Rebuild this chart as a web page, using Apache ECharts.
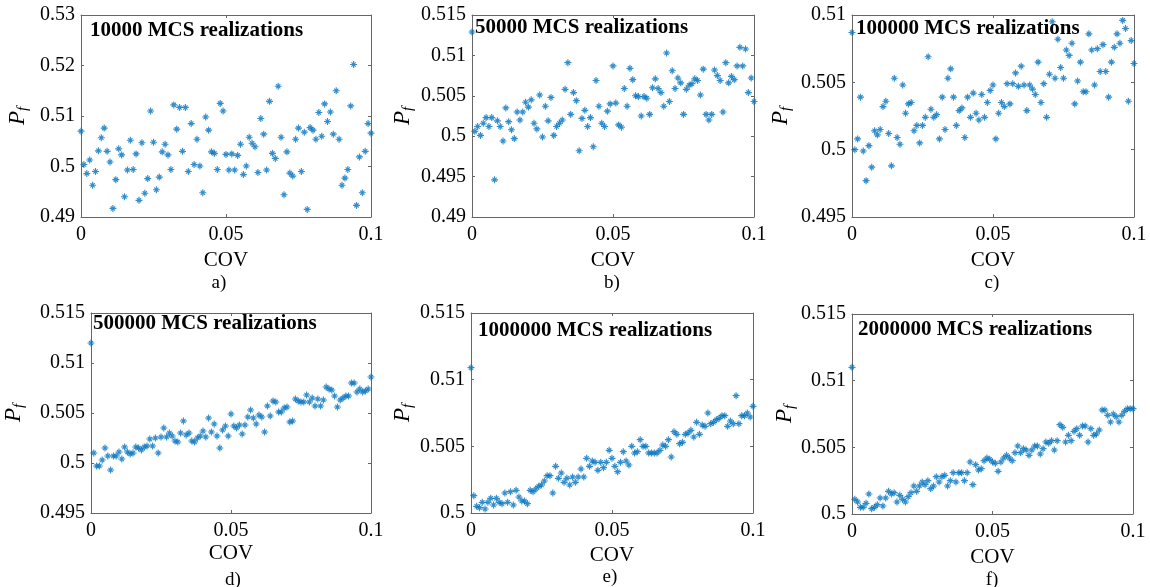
<!DOCTYPE html>
<html><head><meta charset="utf-8">
<script src="https://cdn.jsdelivr.net/npm/echarts@6/dist/echarts.min.js"></script>
<style>html,body{margin:0;padding:0;background:#fff}#c{width:1150px;height:587px}</style>
</head><body><div id="c"></div>
<script>
// ---------------- DATA ----------------
const COV = [0,0.001,0.002,0.003,0.004,0.005,0.006,0.007,0.008,0.009,
0.010,0.011,0.012,0.013,0.014,0.015,0.016,0.017,0.018,0.019,
0.020,0.021,0.022,0.023,0.024,0.025,0.026,0.027,0.028,0.029,
0.030,0.031,0.032,0.033,0.034,0.035,0.036,0.037,0.038,0.039,
0.040,0.041,0.042,0.043,0.044,0.045,0.046,0.047,0.048,0.049,
0.050,0.051,0.052,0.053,0.054,0.055,0.056,0.057,0.058,0.059,
0.060,0.061,0.062,0.063,0.064,0.065,0.066,0.067,0.068,0.069,
0.070,0.071,0.072,0.073,0.074,0.075,0.076,0.077,0.078,0.079,
0.080,0.081,0.082,0.083,0.084,0.085,0.086,0.087,0.088,0.089,
0.090,0.091,0.092,0.093,0.094,0.095,0.096,0.097,0.098,0.099,0.100];

const pfA = [0.507,0.5004,0.4986,0.5013,0.4963,0.499,0.5031,0.5057,0.5076,0.503,
0.5009,0.4917,0.4974,0.5035,0.5023,0.494,0.4993,0.5052,0.4994,0.5025,
0.4933,0.5047,0.4947,0.4976,0.511,0.5048,0.4954,0.4979,0.5029,0.5044,
0.5023,0.4994,0.5122,0.5074,0.5117,0.503,0.5117,0.499,0.5085,0.5004,
0.5054,0.5001,0.4948,0.5098,0.5072,0.5029,0.5026,0.4994,0.5125,0.511,
0.5024,0.4993,0.5025,0.4993,0.5022,0.5044,0.4984,0.5001,0.5058,0.5046,
0.5039,0.4988,0.5095,0.5064,0.4993,0.5129,0.5026,0.5016,0.5159,0.5058,
0.4944,0.5029,0.4987,0.4981,0.5054,0.5076,0.499,0.5068,0.4915,0.5077,
0.5072,0.5054,0.5107,0.506,0.5124,0.5089,0.5108,0.5064,0.515,0.5054,
0.4963,0.4977,0.4994,0.512,0.5202,0.4923,0.5019,0.4948,0.503,0.5085,0.5066];

const pfB = [0.5129,0.5006,0.5012,0.5001,0.5016,0.5023,0.5012,0.5023,0.4946,0.5019,
0.5012,0.4994,0.5035,0.5018,0.5008,0.4997,0.503,0.502,0.503,0.5042,
0.5036,0.5045,0.5016,0.5009,0.5051,0.4999,0.5037,0.5019,0.5048,0.5001,
0.5012,0.5016,0.502,0.5058,0.5091,0.5027,0.5054,0.5044,0.4982,0.5022,
0.5032,0.5012,0.5023,0.4987,0.5069,0.5037,0.5016,0.5012,0.5031,0.504,
0.5087,0.5041,0.5014,0.5011,0.5059,0.5037,0.5084,0.507,0.505,0.5049,
0.5025,0.5049,0.5047,0.5027,0.506,0.5071,0.5059,0.5054,0.5037,0.5103,
0.5043,0.5081,0.5059,0.5072,0.5066,0.5027,0.5058,0.5063,0.5065,0.5071,
0.5069,0.5051,0.5083,0.5027,0.502,0.5027,0.5082,0.5075,0.5069,0.503,
0.5091,0.5066,0.5074,0.507,0.5087,0.511,0.5087,0.5108,0.5054,0.5072,0.5043];

const pfC = [0.5087,0.5,0.5008,0.5039,0.4999,0.4977,0.5003,0.4987,0.5014,0.5011,
0.5015,0.5032,0.5036,0.5012,0.4988,0.5053,0.5009,0.5004,0.5048,0.5027,
0.5034,0.5035,0.5014,0.5018,0.5005,0.5018,0.5024,0.5069,0.503,0.5024,
0.5026,0.5008,0.5039,0.5015,0.5053,0.506,0.5039,0.5018,0.5029,0.5031,
0.5009,0.5039,0.5024,0.5042,0.5027,0.5022,0.5041,0.5024,0.5035,0.5044,
0.5048,0.5008,0.5027,0.5035,0.5032,0.5049,0.5034,0.5049,0.5057,0.5047,
0.5062,0.5048,0.5029,0.5048,0.5045,0.5041,0.5065,0.5035,0.5049,0.5024,
0.5056,0.5095,0.5053,0.5082,0.5061,0.5053,0.5074,0.507,0.5079,0.5034,
0.5051,0.5065,0.5043,0.5043,0.5086,0.5074,0.5048,0.5075,0.5058,0.5078,
0.5058,0.5039,0.5065,0.5076,0.5086,0.5079,0.5096,0.509,0.5036,0.5081,0.5064];

const pfD = [0.512,0.501,0.4997,0.4997,0.5003,0.5015,0.5007,0.4993,0.5007,0.5007,
0.5011,0.5004,0.5016,0.5011,0.5009,0.501,0.5016,0.5015,0.5013,0.5016,
0.5017,0.5024,0.5017,0.5025,0.501,0.5026,0.5035,0.5026,0.503,0.5027,
0.5022,0.5021,0.503,0.5042,0.5028,0.503,0.5022,0.5021,0.5025,0.5027,
0.5032,0.5026,0.5045,0.5031,0.5039,0.5027,0.5015,0.5033,0.5037,0.5027,
0.5049,0.5037,0.5035,0.5038,0.5029,0.5038,0.5046,0.5053,0.5045,0.5039,
0.5048,0.5046,0.5031,0.5057,0.5047,0.5062,0.5061,0.5051,0.5051,0.5055,
0.5056,0.5041,0.5042,0.5064,0.5062,0.5061,0.5061,0.5068,0.5061,0.5065,
0.5057,0.5064,0.5057,0.5063,0.5076,0.5074,0.5073,0.5067,0.5056,0.5063,
0.5065,0.5067,0.5067,0.508,0.508,0.5071,0.5074,0.5071,0.5072,0.5074,0.5086];

const pfE = [0.5109,0.5013,0.5005,0.5004,0.5008,0.5003,0.5008,0.5011,0.5006,0.5011,
0.5008,0.5007,0.5015,0.5008,0.5016,0.5006,0.5017,0.5012,0.5009,0.5009,
0.5007,0.5017,0.5016,0.5018,0.502,0.5021,0.5024,0.5028,0.5028,0.5015,
0.5035,0.5026,0.503,0.5023,0.5026,0.5021,0.5027,0.5023,0.5027,0.5033,
0.5027,0.5041,0.5035,0.5039,0.5038,0.5032,0.5038,0.5034,0.5038,0.5047,
0.5041,0.5035,0.5031,0.5038,0.5046,0.5039,0.5036,0.505,0.5045,0.5046,
0.5055,0.505,0.505,0.5045,0.5045,0.5045,0.5045,0.5047,0.5051,0.505,
0.5055,0.5042,0.5061,0.5059,0.5052,0.5053,0.5059,0.506,0.5062,0.5057,
0.5068,0.5059,0.5066,0.5065,0.5075,0.5067,0.5068,0.507,0.5071,0.5073,
0.5073,0.5065,0.5069,0.5067,0.5088,0.5067,0.5073,0.5073,0.5075,0.5072,0.508];

const pfF = [0.511,0.5011,0.5009,0.5005,0.5005,0.5008,0.5015,0.5004,0.5005,0.5007,
0.5012,0.5006,0.5012,0.5017,0.5015,0.5016,0.5009,0.5014,0.5011,0.5009,
0.5013,0.5016,0.5021,0.5017,0.5021,0.5024,0.5022,0.5025,0.5019,0.5021,
0.5028,0.5024,0.5028,0.5029,0.5021,0.5025,0.5031,0.5024,0.5031,0.5031,
0.5025,0.5031,0.5039,0.5022,0.5037,0.5033,0.5034,0.504,0.5042,0.5041,
0.5039,0.5038,0.5032,0.5039,0.5042,0.5044,0.5042,0.504,0.5046,0.5051,
0.5046,0.5049,0.5048,0.5044,0.5048,0.5051,0.5051,0.5045,0.5049,0.5054,
0.5053,0.5055,0.5048,0.5055,0.5067,0.5065,0.5054,0.5059,0.5055,0.5062,
0.5064,0.5059,0.5066,0.5066,0.5054,0.5064,0.5059,0.506,0.5063,0.5078,
0.5078,0.5074,0.5069,0.5075,0.5073,0.5069,0.5074,0.5077,0.5079,0.5079,0.5079];

const panelTitles = ['10000 MCS realizations','50000 MCS realizations','100000 MCS realizations',
                     '500000 MCS realizations','1000000 MCS realizations','2000000 MCS realizations'];
const panelLetters = ['a)','b)','c)','d)','e)','f)'];
const yMins  = [0.49, 0.49, 0.495, 0.495, 0.5, 0.5];
const yMaxs  = [0.53, 0.515, 0.51, 0.515, 0.515, 0.515];
const ySteps = [0.01, 0.005, 0.005, 0.005, 0.005, 0.005];
const xMin = 0, xMax = 0.1, xStep = 0.05;
const xName = 'COV';

// ---------------- LAYOUT / STYLE ----------------
const series = [pfA, pfB, pfC, pfD, pfE, pfF];
const grids = [
  {left:81,  top:15,  width:290, height:202},
  {left:472, top:15,  width:282, height:202},
  {left:852, top:15,  width:282, height:202},
  {left:91,  top:313, width:280, height:200},
  {left:471, top:313, width:282, height:200},
  {left:852, top:314, width:281, height:200}
];
const yNameGap = [50, 56, 58, 64, 55, 54];
const xNameGap = [33, 33, 33, 30, 32, 33];
const titlePos = [[90,20],[475,17],[856,18],[93,313],[478,320],[858,319]];
const letterPos = [[219,274],[612,274],[992,274],[233,571],[610,568],[992,571]];

const FONT = 'Liberation Serif, Times New Roman, serif';
const AXC = '#666';
const MARK = '#0072BD';

function asteriskPath(){
  const parts = [];
  const arms = [[0,5],[90,5],[45,4.3],[135,4.3]];
  const w = 0.8;
  arms.forEach(([deg,L])=>{
    const t = deg*Math.PI/180, dx=Math.cos(t), dy=Math.sin(t), nx=-dy, ny=dx;
    const p = [[L*dx+w*nx, L*dy+w*ny],[L*dx-w*nx, L*dy-w*ny],[-L*dx-w*nx,-L*dy-w*ny],[-L*dx+w*nx,-L*dy+w*ny]];
    parts.push('M'+p.map(q=>q[0].toFixed(3)+','+q[1].toFixed(3)).join('L')+'Z');
  });
  return 'path://'+parts.join('');
}
const STAR = asteriskPath();
const fmt = v => String(Number(v.toFixed(4)));

const xAxis = [], yAxis = [], ser = [], title = [];
grids.forEach((g,i)=>{
  const common = {
    gridIndex:i, type:'value', splitLine:{show:false},
    axisLine:{show:true, onZero:false, lineStyle:{color:AXC, width:1}},
    axisTick:{show:true, inside:true, length:3, lineStyle:{color:AXC}},
    nameMoveOverlap:false
  };
  xAxis.push(Object.assign({}, common, {
    position:'bottom', min:xMin, max:xMax, interval:xStep,
    axisLabel:{show:true, fontFamily:FONT, fontSize:20, color:'#000', margin:8, formatter:fmt},
    name:xName, nameLocation:'middle', nameGap:xNameGap[i],
    nameTextStyle:{fontFamily:FONT, fontSize:21, color:'#000'}
  }));
  xAxis.push(Object.assign({}, common, {
    position:'top', min:xMin, max:xMax, interval:xStep, axisLabel:{show:false}
  }));
  yAxis.push(Object.assign({}, common, {
    position:'left', min:yMins[i], max:yMaxs[i], interval:ySteps[i],
    axisLabel:{show:true, fontFamily:FONT, fontSize:20, color:'#000', margin:6, formatter:fmt},
    name:'{p|P}{s|f}', nameLocation:'middle', nameGap:yNameGap[i], nameRotate:90,
    nameTextStyle:{rich:{
      p:{fontFamily:FONT, fontStyle:'italic', fontSize:23, color:'#000', lineHeight:26, verticalAlign:'middle'},
      s:{fontFamily:FONT, fontStyle:'italic', fontSize:15, color:'#000', lineHeight:15, verticalAlign:'bottom'}
    }}
  }));
  yAxis.push(Object.assign({}, common, {
    position:'right', min:yMins[i], max:yMaxs[i], interval:ySteps[i], axisLabel:{show:false}
  }));
  const vals = series[i];
  const n = Math.min(vals.length, COV.length);
  const data = [];
  for (let k=0;k<n;k++) data.push([COV[k], vals[k]]);
  ser.push({
    type:'scatter', xAxisIndex:2*i, yAxisIndex:2*i, data,
    symbol:STAR, symbolSize:7, symbolKeepAspect:true,
    itemStyle:{color:MARK}, silent:true, animation:false
  });
  title.push({text:panelTitles[i], left:titlePos[i][0], top:titlePos[i][1], padding:0,
    textStyle:{fontFamily:FONT, fontWeight:'bold', fontSize:21, color:'#000'}});
  title.push({text:panelLetters[i], left:letterPos[i][0], top:letterPos[i][1], padding:0, textAlign:'center',
    textStyle:{fontFamily:FONT, fontWeight:'normal', fontSize:19, color:'#000'}});
});

const chart = echarts.init(document.getElementById('c'), null, {renderer:'canvas'});
chart.setOption({
  backgroundColor:'#fff',
  animation:false,
  title,
  grid: grids.map(g=>Object.assign({containLabel:false, outerBoundsMode:'none'}, g)),
  xAxis, yAxis, series:ser
});
</script>
</body></html>
